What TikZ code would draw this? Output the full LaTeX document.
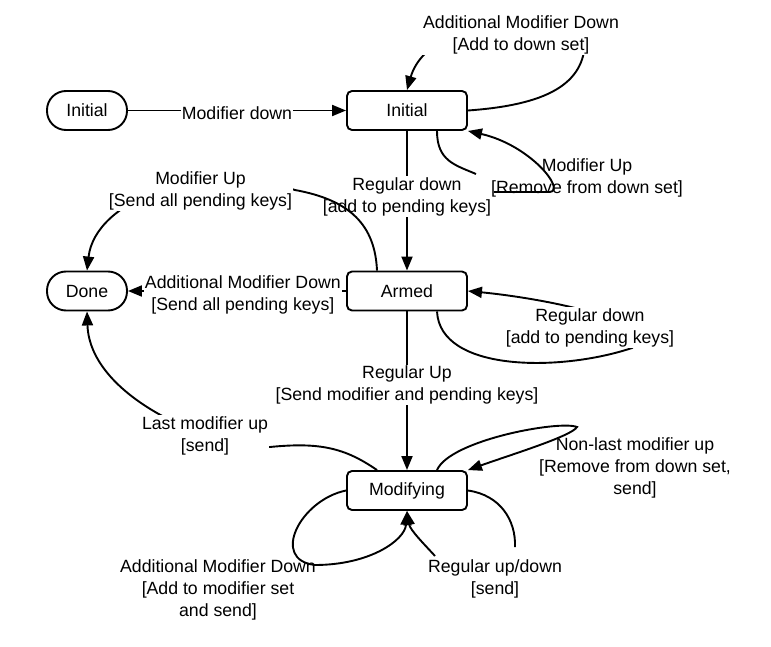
\documentclass[tikz,border=0pt]{standalone}
\usepackage{fontspec}
\setmainfont{Liberation Sans}
\usetikzlibrary{arrows.meta,positioning,calc}

\begin{document}
\begin{tikzpicture}[x=1pt, y=-1pt,
	every node/.style={font=\fontsize{17.7}{22}\selectfont},
	stbox/.style={draw, line width=1.9pt, rounded corners=5pt, minimum width=120pt, minimum height=39pt, inner sep=0pt},
	endbox/.style={draw, line width=1.9pt, rounded corners=19pt, minimum width=80pt, minimum height=39pt, inner sep=0pt},
	arr/.style={line width=1.9pt, -{Triangle[length=14pt, width=11pt]}},
	lbl/.style={align=center, inner sep=1pt},
	wlbl/.style={lbl, fill=white}]
		\useasboundingbox (0,0) rectangle (771,647);

		\node[endbox] (I0) at (87, 110.5) {Initial};
		\node[stbox] (I1) at (407, 110.5) {Initial};
		\node[endbox] (D) at (87, 291) {Done};
		\node[stbox] (A) at (407, 291) {Armed};
		\node[stbox] (M) at (407, 490.5) {Modifying};

		\draw[arr] (I0) -- (I1) node[wlbl, midway, yshift=-2.5pt] (L1) {Modifier down};
		\draw[arr] (I1.east) .. controls (545,105) and (585,85) .. (585,40) .. controls (585,10) and (430,10) .. (I1.north);
		\draw[arr] ([xshift=30pt]I1.south) .. controls +(0,30) and (455,165) .. (476,174) (494,192) -- (550,192) .. controls (566,190) and (530,145) .. (I1.south east);
		\draw[arr] (I1) -- (A) node[wlbl, pos=0.47] (L4) {Regular down\\{[add to pending keys]}};
		\draw[arr] (A) -- (D) node[wlbl, pos=0.473, yshift=-3.5pt] (L5) {Additional Modifier Down\\{[Send all pending keys]}};
		\draw[arr] ([xshift=-30pt]A.north) .. controls (375,225) and (350,200) .. (295,190) .. controls (200,160) and (95,200) .. (D.north);
		\draw[arr] ([xshift=30pt]A.south) .. controls (440,372) and (560,372) .. (632,348) .. controls (660,320) and (540,298) .. (A.east);
		\draw[arr] (A) -- (M) node[wlbl, pos=0.465] (L8) {Regular Up\\{[Send modifier and pending keys]}};
		\draw[arr] ([xshift=-30pt]M.north) .. controls (345,448) and (320,442) .. (270,447) .. controls (220,450) and (90,400) .. (D.south);
		\draw[arr] ([xshift=30pt]M.north) .. controls (450,440) and (560,420) .. (577,427) .. controls (572,436) and (510,455) .. (M.north east);
		\draw[arr] (M.west) .. controls (300,500) and (270,560) .. (315,565) .. controls (370,565) and (405,540) .. (M.south);
		\draw[arr] (M.east) .. controls (500,495) and (516,520) .. (515,547) (435,556) .. controls (425,545) and (410,530) .. (M.south);

		\node[wlbl] (L2) at (521,34.5) {Additional Modifier Down\\{[Add to down set]}};
		\node[lbl] (L3) at (587,177.5) {Modifier Up\\{[Remove from down set]}};
		\node[wlbl] (L6) at (200.5,190.5) {Modifier Up\\{[Send all pending keys]}};
		\node[wlbl] (L7) at (590,327.5) {Regular down\\{[add to pending keys]}};
		\node[wlbl] (L9) at (205,435.5) {Last modifier up\\{[send]}};
		\node[lbl] (L10) at (635,467.5) {Non-last modifier up\\{[Remove from down set,}\\send]};
		\node[lbl] (L11) at (218,590) {Additional Modifier Down\\{[Add to modifier set}\\and send]};
		\node[lbl] (L12) at (495,578.5) {Regular up/down\\{[send]}};
	\end{tikzpicture}
\end{document}
